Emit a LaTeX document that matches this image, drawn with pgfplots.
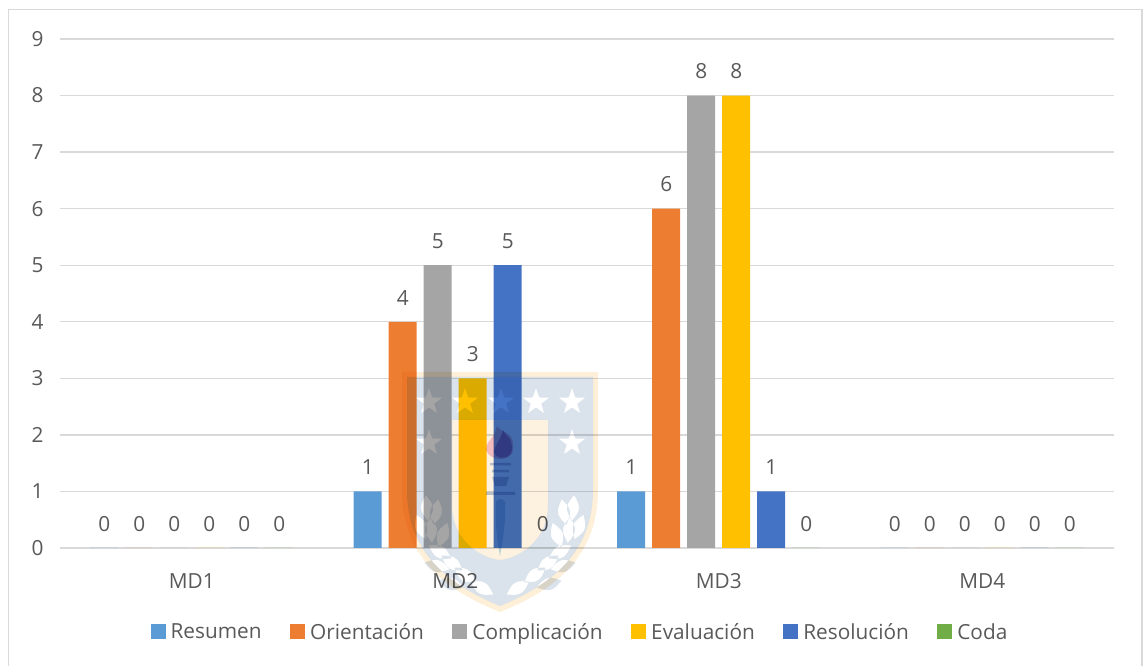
\documentclass[border=0pt]{standalone}
\usepackage{fontspec}
\setmainfont{Open Sans}
\usepackage{pgfplots}
\pgfplotsset{compat=1.18}
\definecolor{txt}{HTML}{595959}
\definecolor{gridc}{HTML}{D9D9D9}
\definecolor{cA}{HTML}{5B9BD5}
\definecolor{cB}{HTML}{ED7D31}
\definecolor{cC}{HTML}{A5A5A5}
\definecolor{cD}{HTML}{FFC000}
\definecolor{cE}{HTML}{4472C4}
\definecolor{cF}{HTML}{70AD47}
\definecolor{shield}{HTML}{DAE2EC}
\definecolor{rim}{HTML}{FDEFD8}
\definecolor{panel}{HTML}{FDF1E0}
\definecolor{flame}{HTML}{F6C6D8}
\definecolor{flameb}{HTML}{C4B4E4}
\definecolor{torch}{HTML}{BCCBE2}
\definecolor{handle}{HTML}{BFE0F2}
\newcommand\labelfont{\fontsize{20.8}{23}\selectfont}
\pgfplotsset{
  swatch/.style={legend image code/.code={\fill[#1] (0pt,-7.5pt) rectangle (15pt,7.5pt);}},
}
\begin{document}
\begin{tikzpicture}[x=1pt,y=1pt]
\useasboundingbox (0,0) rectangle (1143,666);
\begin{scope}
\clip (0,0) rectangle (1143,666);
\draw[gridc,line width=1.8pt] (8.5,-5) rectangle (1142,656.5);
\end{scope}
\begin{axis}[
  at={(60pt,118pt)}, anchor=south west,
  scale only axis, width=1054pt, height=509pt,
  xmin=-0.5, xmax=3.5, ymin=0, ymax=9,
  ybar=7pt, bar width=28pt,
  axis line style={draw=none},
  major tick length=0pt,
  xtick={0,1,2,3}, xticklabels={MD1,MD2,MD3,MD4},
  ytick={0,1,...,9},
  ymajorgrids, grid style={gridc,line width=1.3pt},
  tick label style={text=txt,font=\labelfont},
  /pgf/number format/assume math mode=true,
  yticklabel style={xshift=-13pt},
  xticklabel style={yshift=-22pt},
  nodes near coords,
  every node near coord/.append style={text=txt,font=\labelfont,yshift=13pt},
  legend columns=-1,
  legend style={at={(520pt,-84pt)},anchor=center,draw=none,fill=none,text=txt,
    font=\labelfont,
    /tikz/every odd column/.append style={column sep=3pt},
    /tikz/every even column/.append style={column sep=26.5pt}},
]
\addplot[fill=cA,draw=none,swatch=cA] coordinates {(0,0) (1,1) (2,1) (3,0)};
\addplot[fill=cB,draw=none,swatch=cB] coordinates {(0,0) (1,4) (2,6) (3,0)};
\addplot[fill=cC,draw=none,swatch=cC] coordinates {(0,0) (1,5) (2,8) (3,0)};
\addplot[fill=cD,draw=none,swatch=cD] coordinates {(0,0) (1,3) (2,8) (3,0)};
\addplot[fill=cE,draw=none,swatch=cE] coordinates {(0,0) (1,5) (2,1) (3,0)};
\addplot[fill=cF,draw=none,swatch=cF] coordinates {(0,0) (1,0) (2,0) (3,0)};
\legend{Resumen,Orientación,Complicación,Evaluación,Resolución,Coda}
\end{axis}
% University crest printed faintly over the plot; stars and laurel are left open
\begin{scope}[yscale=-1,yshift=-666pt,blend mode=multiply]
  \fill[rim,even odd rule]
    (402,372) -- (598,372) -- (598,490) .. controls (598,560) and (550,592) .. (500,612) .. controls (450,592) and (402,560) .. (402,490) -- cycle
    (407,377) -- (593,377) -- (593,490) .. controls (593,555) and (548,586) .. (500,606) .. controls (452,586) and (407,555) .. (407,490) -- cycle;
  \fill[shield,even odd rule]
    (407,377) -- (593,377) -- (593,490) .. controls (593,555) and (548,586) .. (500,606) .. controls (452,586) and (407,555) .. (407,490) -- cycle
    (452,420) -- (548,420) -- (548,505) .. controls (548,540) and (520,558) .. (500,560) .. controls (480,558) and (452,540) .. (452,505) -- cycle
    \foreach \x/\y in {429/402,465/402,501/402,536/402,572/402,429/443,572/443} {
      (\x,\y) +(-90:14) -- +(-54:5.6) -- +(-18:14) -- +(18:5.6) -- +(54:14)
      -- +(90:5.6) -- +(126:14) -- +(162:5.6) -- +(198:14) -- +(234:5.6) -- cycle }
    \foreach \x/\y/\a in {427/508/85,436/512/100,421/527/70,431/530/85,443/535/110,
                          573/508/95,564/512/80,579/527/110,569/530/95,557/535/70,
                          440/552/30,452/563/35,437/566/15,465/575/35,451/584/15,482/588/30,
                          560/552/150,548/563/145,563/566/165,535/575/145,549/584/165,518/588/150} {
      (\x,\y) ++(\a+180:13) .. controls +(\a+35:14) and +(\a+145:14) .. ++(\a:26)
      .. controls +(\a+215:14) and +(\a-35:14) .. ++(\a+180:26) -- cycle };
  \fill[panel]
    (452,420) -- (548,420) -- (548,505) .. controls (548,540) and (520,558) .. (500,560) .. controls (480,558) and (452,540) .. (452,505) -- cycle;
  % torch
  \fill[flame] (486,450) .. controls (487,438) and (493,442) .. (497,426) .. controls (505,436) and (514,430) .. (513,450) .. controls (512,462) and (490,462) .. (486,450) -- cycle;
  \fill[flameb] (494,452) .. controls (496,442) and (500,442) .. (503,430) .. controls (507,438) and (512,436) .. (512,450) .. controls (510,460) and (496,460) .. (494,452) -- cycle;
  \fill[torch] (490,463) rectangle (511,465.5) (492,470) rectangle (509,472.5) (492,477) -- (509,477) -- (506,486) -- (495,486) -- cycle (486,492) rectangle (515,495);
  \fill[handle] (496,502) .. controls (498,498) and (504,498) .. (505,502) .. controls (506,520) and (503,540) .. (500,556) .. controls (497,540) and (495,520) .. (496,502) -- cycle;
\end{scope}
\end{tikzpicture}
\end{document}
